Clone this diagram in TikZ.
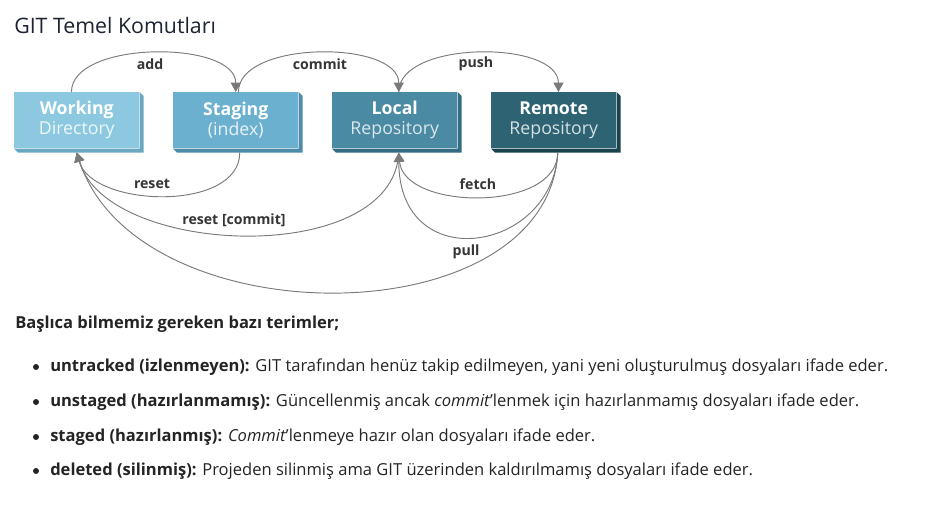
\documentclass[tikz,border=0pt]{standalone}
\usepackage{fontspec}
\setmainfont{Open Sans}
\usetikzlibrary{arrows.meta}
\definecolor{wdF}{HTML}{8CC9E1}\definecolor{wdD}{HTML}{6AA8C2}
\definecolor{stF}{HTML}{6BB0CF}\definecolor{stD}{HTML}{4B8DAA}
\definecolor{lrF}{HTML}{4A8AA3}\definecolor{lrD}{HTML}{326D84}
\definecolor{rrF}{HTML}{2E6374}\definecolor{rrD}{HTML}{1A4350}
\definecolor{conncol}{HTML}{7A7A7A}
\definecolor{lblcol}{HTML}{353535}
\definecolor{txtcol}{HTML}{242424}
\definecolor{titlecol}{HTML}{1C2433}
\tikzset{
  gitbox/.style={minimum width=93.75pt, minimum height=42pt, inner sep=0pt, anchor=north west, text=white, align=center, font=\fontsize{13.3}{15.5}\selectfont},
  conn/.style={draw=conncol, line width=0.7pt, -{Triangle[width=7.5pt,length=7pt]}},
  lbl/.style={font=\fontsize{10.6}{12}\selectfont\bfseries, text=lblcol, inner sep=0pt},
  body/.style={anchor=west, inner sep=0pt, text=txtcol, font=\fontsize{12.4}{14}\selectfont},
  dot/.style={circle, fill=txtcol, inner sep=0pt, minimum size=4.5pt}
}
\newcommand{\bevel}[2]{%
  \fill[#2] (#1.north east) -- ([shift={(3pt,-3pt)}]#1.north east) -- ([shift={(3pt,-3pt)}]#1.south east) -- ([shift={(3pt,-3pt)}]#1.south west) -- (#1.south west) -- (#1.south east) -- cycle;}
\begin{document}
\begin{tikzpicture}[x=0.75pt,y=-0.75pt]
\useasboundingbox[fill=white] (0,0) rectangle (943,506);
\node[anchor=west, inner sep=0pt, text=titlecol, font=\fontsize{16}{19}\selectfont] (title) at (14,26) {GIT Temel Komutları};

\node[gitbox, fill=wdF] (W) at (14,92) {\textbf{Working}\\[-0.5pt]{\color{white!85!wdF}Directory}};
\node[gitbox, fill=stF] (S) at (173,92) {\textbf{Staging}\\[-0.5pt]{\color{white!85!stF}(index)}};
\node[gitbox, fill=lrF] (L) at (332,92) {\textbf{Local}\\[-0.5pt]{\color{white!80!lrF}Repository}};
\node[gitbox, fill=rrF] (R) at (491,92) {\textbf{Remote}\\[-0.5pt]{\color{white!80!rrF}Repository}};
\bevel{W}{wdD}\bevel{S}{stD}\bevel{L}{lrD}\bevel{R}{rrD}

% top arcs
\draw[conn] ([xshift=-4pt]W.north) .. controls +(0,-52) and +(0,-52) .. (S.north);
\draw[conn] ([xshift=2pt]S.north) .. controls +(0,-52) and +(0,-52) .. ([xshift=3pt]L.north);
\draw[conn] ([xshift=3pt]L.north) .. controls +(0,-52) and +(0,-52) .. ([xshift=3.5pt]R.north);

% bottom arcs
\draw[conn] ([xshift=3pt,yshift=-3pt]S.south) .. controls +(0,60) and +(15,55) .. ([yshift=-3pt]W.south);
\draw[conn] ([xshift=3pt,yshift=-3pt]L.south) .. controls +(-5,115) and +(30,105) .. ([yshift=-3pt]W.south);
\draw[conn] ([xshift=3pt,yshift=-3pt]R.south) .. controls +(0,60) and +(5,58) .. ([xshift=3pt,yshift=-3pt]L.south);
\draw[conn] ([xshift=3pt,yshift=-3pt]R.south) .. controls +(-5,100) and +(0,125) .. ([xshift=3pt,yshift=-3pt]L.south);
\draw[conn] ([xshift=3pt,yshift=-3pt]R.south) .. controls +(-10,186) and +(60,186) .. ([yshift=-3pt]W.south);

\node[lbl] (ladd) at (150,64) {add};
\node[lbl] (lcommit) at (320,64) {commit};
\node[lbl] (lpush) at (476,64) {push};
\node[lbl] (lreset) at (152,184) {reset};
\node[lbl] (lresetc) at (234,220) {reset [commit]};
\node[lbl] (lfetch) at (478,184) {fetch};
\node[lbl] (lpull) at (466,252) {pull};

\node[body, font=\fontsize{12.4}{14}\selectfont\bfseries] (head) at (15,324) {Başlıca bilmemiz gereken bazı terimler;};

\node[dot] (d1) at (36,367) {};
\node[body] (t1) at (50,367) {\textbf{untracked (izlenmeyen):} GIT tarafından henüz takip edilmeyen, yani yeni oluşturulmuş dosyaları ifade eder.};
\node[dot] (d2) at (36,402) {};
\node[body] (t2) at (50,402) {\textbf{unstaged (hazırlanmamış):} Güncellenmiş ancak \textit{commit}'lenmek için hazırlanmamış dosyaları ifade eder.};
\node[dot] (d3) at (36,437) {};
\node[body] (t3) at (50,437) {\textbf{staged (hazırlanmış):} \textit{Commit}'lenmeye hazır olan dosyaları ifade eder.};
\node[dot] (d4) at (36,471) {};
\node[body] (t4) at (50,471) {\textbf{deleted (silinmiş):} Projeden silinmiş ama GIT üzerinden kaldırılmamış dosyaları ifade eder.};
\end{tikzpicture}
\end{document}
